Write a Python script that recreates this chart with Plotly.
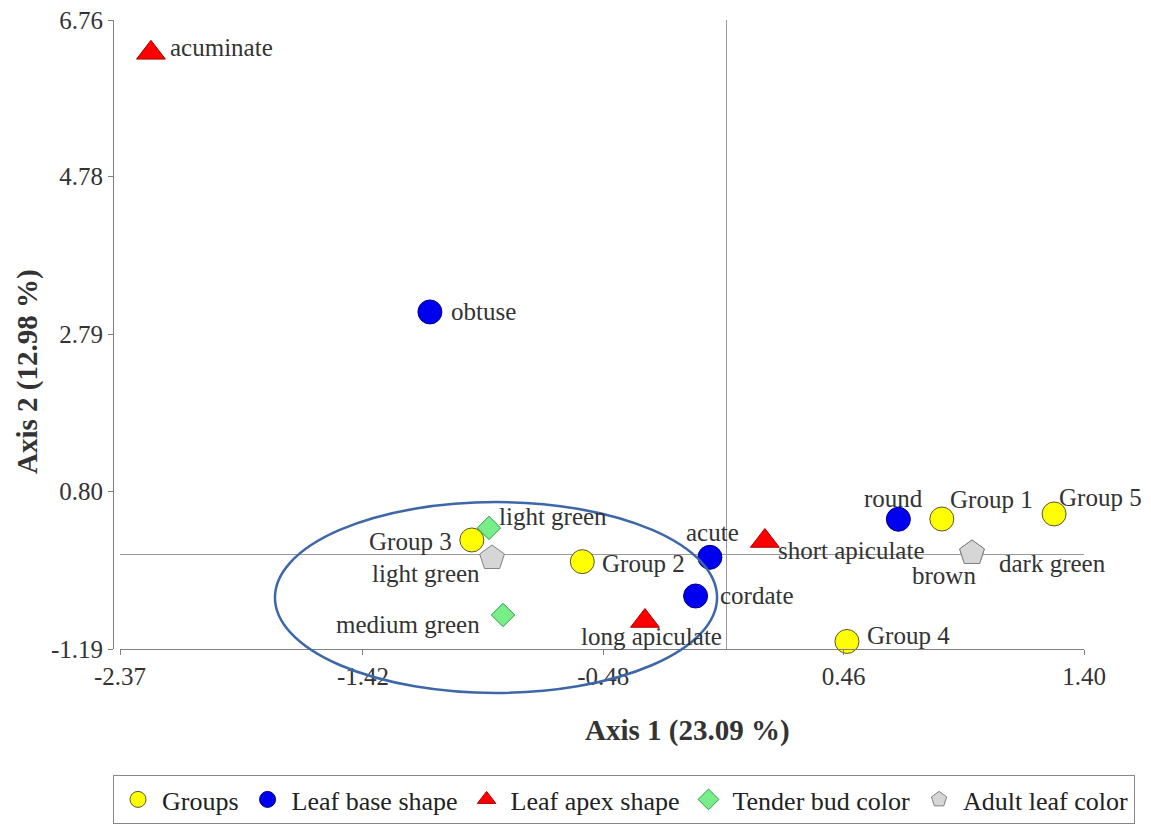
import plotly.graph_objects as go

# ---------------- data ----------------
X_RANGE = [-2.37, 1.40]
Y_RANGE = [-1.19, 6.76]
x_tickvals = [-2.37, -1.42, -0.48, 0.46, 1.40]
x_ticktext = ["-2.37", "-1.42", "-0.48", "0.46", "1.40"]
y_tickvals = [-1.19, 0.80, 2.79, 4.78, 6.76]
y_ticktext = ["-1.19", "0.80", "2.79", "4.78", "6.76"]

group_labels = ["Group 1", "Group 2", "Group 3", "Group 4", "Group 5"]
group_x = [0.844, -0.562, -0.994, 0.473, 1.283]
group_y = [0.453, -0.086, 0.188, -1.095, 0.517]

base_labels = ["obtuse", "acute", "cordate", "round"]
base_x = [-1.158, -0.063, -0.119, 0.674]
base_y = [3.07, -0.031, -0.52, 0.45]

apex_labels = ["acuminate", "long apiculate", "short apiculate"]
apex_x = [-2.249, -0.317, 0.152]
apex_y = [6.345, -0.836, 0.175]

bud_labels = ["light green", "medium green"]
bud_x = [-0.927, -0.872]
bud_y = [0.34, -0.76]

adult_labels = ["light green", "brown", "dark green"]
adult_x = [-0.915, 0.962, 0.962]
adult_y = [-0.04, 0.024, 0.024]

# highlighted cluster ellipse (data coordinates: x min/max, y min/max)
ellipse_x = [-1.764, -0.035]
ellipse_y = [-1.746, 0.668]

# ---------------- layout geometry ----------------
# the page places the figure 8px in from the top-left corner
OFF = 8
W, H = 1151 - OFF, 830 - OFF


def px(v):
    return (v - OFF) / W


def py(v):
    return 1 - (v - OFF) / H


FONT = "Liberation Serif, Times New Roman, serif"
TXT = "#333333"

series = [
    dict(name="Groups", labels=group_labels, x=group_x, y=group_y,
         symbol="circle", size=24, color="#FFFF00", line="#555533",
         place=[("left", 6, 20), ("left", 18, -2), ("right", -18, -2),
                ("left", 18, 6), ("left", 3, 16)]),
    dict(name="Leaf base shape", labels=base_labels, x=base_x, y=base_y,
         symbol="circle", size=24, color="#0000EE", line="#000088",
         place=[("left", 19, 0), ("center", 3, 25), ("left", 22, 0),
                ("center", -5, 21)]),
    dict(name="Leaf apex shape", labels=apex_labels, x=apex_x, y=apex_y,
         symbol="triangle-up", size=25, color="#FF0000", line="#AA0000",
         place=[("left", 17, 5), ("center", 7, -16), ("left", 11, -9)]),
    dict(name="Tender bud color", labels=bud_labels, x=bud_x, y=bud_y,
         symbol="diamond", size=18, color="#77EE88", line="#33994A",
         place=[("left", 8, 11), ("right", -21, -10)]),
    dict(name="Adult leaf color", labels=adult_labels, x=adult_x, y=adult_y,
         symbol="pentagon", size=26, color="#D6D6D6", line="#808080",
         place=[("right", -10, -15), ("center", -28, -23), ("left", 25, -11)]),
]

fig = go.Figure()
annotations = []
for s in series:
    fig.add_trace(go.Scatter(
        x=s["x"], y=s["y"], mode="markers", name=s["name"],
        marker=dict(symbol=s["symbol"], size=s["size"], color=s["color"],
                    line=dict(color=s["line"], width=1)),
        cliponaxis=False, hoverinfo="text", text=s["labels"],
    ))
    for lab, xv, yv, (anc, dx, dy) in zip(s["labels"], s["x"], s["y"], s["place"]):
        annotations.append(dict(
            x=xv, y=yv, xref="x", yref="y", text=lab, showarrow=False,
            xanchor=anc, yanchor="middle", xshift=dx, yshift=dy,
            font=dict(family=FONT, size=25, color=TXT),
        ))

# axis titles
annotations.append(dict(
    x=px(687), y=py(730), xref="paper", yref="paper",
    text="<b>Axis 1 (23.09 %)</b>", showarrow=False,
    xanchor="center", yanchor="middle",
    font=dict(family=FONT, size=29, color=TXT)))
annotations.append(dict(
    x=px(27), y=py(372), xref="paper", yref="paper",
    text="<b>Axis 2 (12.98 %)</b>", showarrow=False, textangle=-90,
    xanchor="center", yanchor="middle",
    font=dict(family=FONT, size=29, color=TXT)))


# ellipse expressed in axis-domain fractions (so it is not clipped)
def fx(v):
    return (v - X_RANGE[0]) / (X_RANGE[1] - X_RANGE[0])


def fy(v):
    return (v - Y_RANGE[0]) / (Y_RANGE[1] - Y_RANGE[0])


shapes = [dict(
    type="circle", xref="x domain", yref="y domain",
    x0=fx(ellipse_x[0]), x1=fx(ellipse_x[1]),
    y0=fy(ellipse_y[0]), y1=fy(ellipse_y[1]),
    line=dict(color="#3D67A8", width=2.5), layer="above",
)]

x_dom = [px(120), px(1084)]
y_dom = [py(649), py(20)]

fig.update_layout(
    width=W, height=H, autosize=False,
    margin=dict(l=0, r=0, t=0, b=0, autoexpand=False),
    paper_bgcolor="white", plot_bgcolor="white",
    font=dict(family=FONT, color=TXT),
    showlegend=True,
    legend=dict(
        orientation="h", x=px(113), y=py(775),
        xanchor="left", yanchor="top",
        bordercolor="#888888", borderwidth=1,
        font=dict(family=FONT, size=26, color="#222222"),
        itemsizing="trace", itemwidth=38,
    ),
    xaxis=dict(
        domain=x_dom, range=X_RANGE, anchor="y", automargin=False,
        tickmode="array", tickvals=x_tickvals, ticktext=x_ticktext,
        ticks="outside", ticklen=5, tickcolor="#808080",
        showline=True, linecolor="#808080", linewidth=1,
        showgrid=False, zeroline=True, zerolinecolor="#9A9A9A",
        zerolinewidth=1, ticklabeloverflow="allow",
        tickfont=dict(family=FONT, size=25, color=TXT),
    ),
    yaxis=dict(
        domain=y_dom, range=Y_RANGE, anchor="free", position=px(113),
        automargin=False, ticklabeloverflow="allow",
        tickmode="array", tickvals=y_tickvals, ticktext=y_ticktext,
        ticks="outside", ticklen=5, tickcolor="#808080",
        showline=True, linecolor="#808080", linewidth=1,
        showgrid=False, zeroline=True, zerolinecolor="#9A9A9A",
        zerolinewidth=1,
        tickfont=dict(family=FONT, size=25, color=TXT),
    ),
    annotations=annotations,
    shapes=shapes,
)

fig.write_html("out.html")
